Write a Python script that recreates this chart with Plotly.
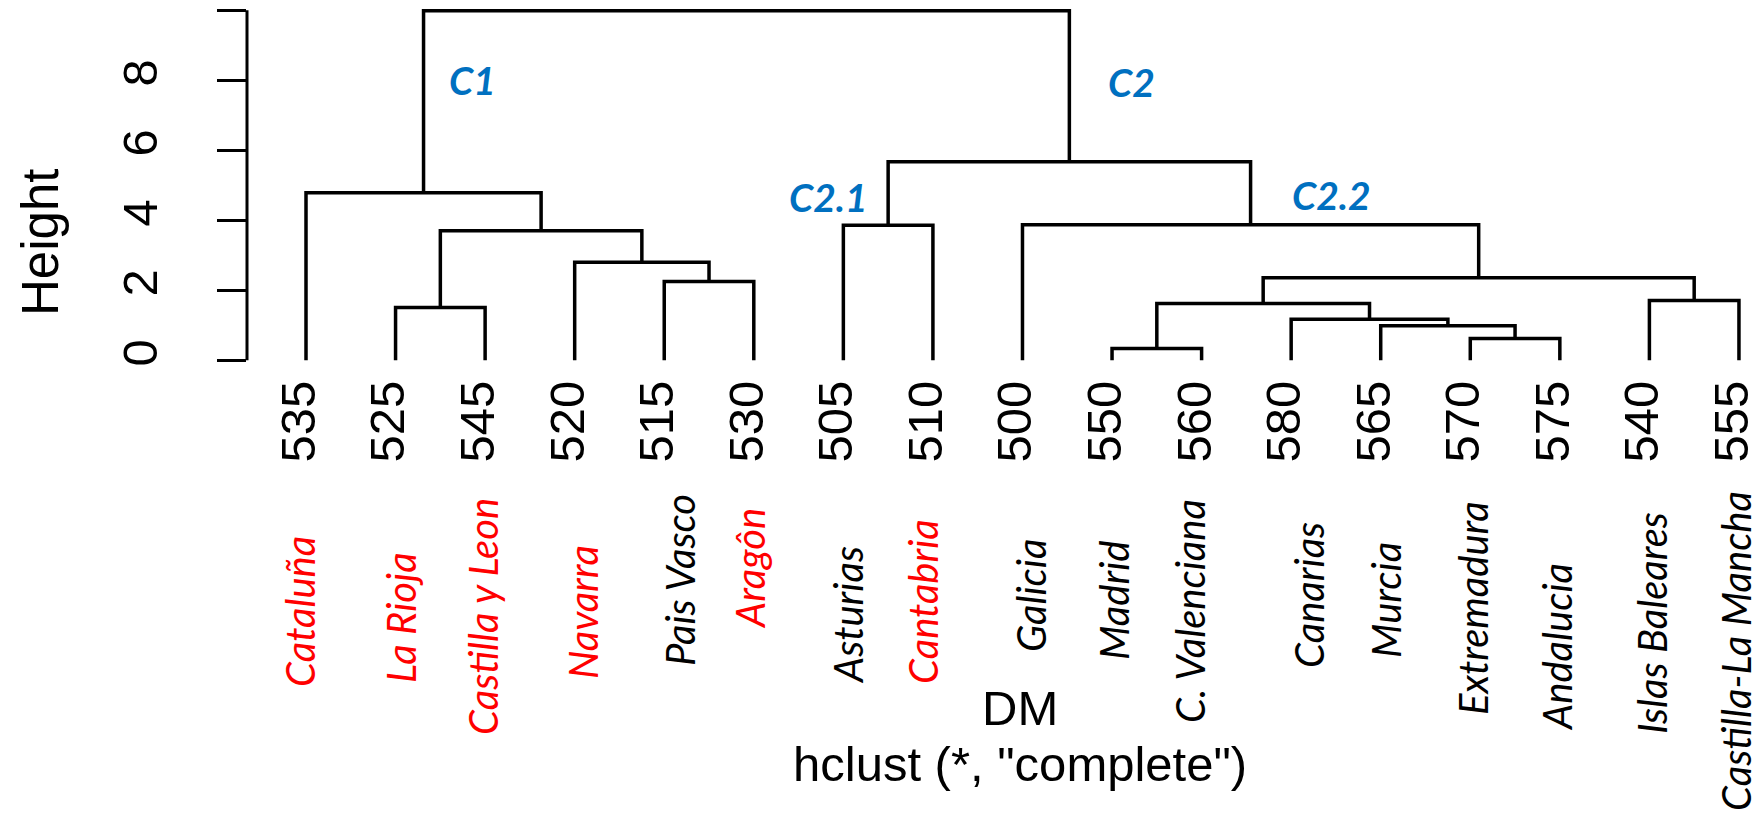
import plotly.graph_objects as go

# ---------------- data ----------------
leaf_codes = ["535", "525", "545", "520", "515", "530", "505", "510", "500",
              "550", "560", "580", "565", "570", "575", "540", "555"]
leaf_names = ["Cataluña", "La Rioja", "Castilla y Leon", "Navarra", "Pais Vasco",
              "Aragôn", "Asturias", "Cantabria", "Galicia", "Madrid",
              "C. Valenciana", "Canarias", "Murcia", "Extremadura", "Andalucia",
              "Islas Baleares", "Castilla-La Mancha"]
leaf_highlight = [1, 1, 1, 1, 0, 1, 0, 1, 0, 0, 0, 0, 0, 0, 0, 0, 0]

# hclust-style merge table: negative = leaf (1-based position in the leaf order),
# positive = result of an earlier merge step (1-based)
merge_left = [-10, -14, -13, -12, -2, 1, -16, -5, 6, -4, 5, -7, -9, -1, 12, 14]
merge_right = [-11, -15, 2, 3, -3, 4, -17, -6, 7, 8, 10, -8, 9, 11, 13, 15]
merge_height = [0.34, 0.62, 0.99, 1.17, 1.51, 1.62, 1.71, 2.25, 2.36, 2.80,
                3.70, 3.86, 3.87, 4.79, 5.67, 9.99]

y_tick_vals = [0, 2, 4, 6, 8, 10]
y_tick_text = ["0", "2", "4", "6", "8", ""]

cluster_labels = ["C1", "C2", "C2.1", "C2.2"]

# ---------------- layout geometry (pixels) ----------------
PAGE_OFF = 8                      # default body margin of the html page
W, H = 1764 - PAGE_OFF, 816 - PAGE_OFF
ML, MR, MT, MB = 239, 0, 0, 452
PW, PH = W - ML - MR, H - MT - MB
X_RANGE = [0.3412, 17.2796]
Y_RANGE = [-0.1057, 10.0657]


def pxx(page_x):
    return (page_x - PAGE_OFF - ML) / PW


def pxy(page_y):
    return (H - MB - (page_y - PAGE_OFF)) / PH


R_FONT = "Liberation Sans, Arial, sans-serif"
NAME_FONT = "Lato, Open Sans, sans-serif"
R_SIZE = 49

# ---------------- dendrogram segments ----------------
centers = []


def node(k):
    if k < 0:
        return float(-k), 0.0
    return centers[k - 1]


xs, ys = [], []
for l, r, h in zip(merge_left, merge_right, merge_height):
    xl, hl = node(l)
    xr, hr = node(r)
    xs += [xl, xl, xr, xr, None]
    ys += [hl, h, h, hr, None]
    centers.append(((xl + xr) / 2.0, h))

fig = go.Figure()
fig.add_trace(go.Scatter(x=xs, y=ys, mode="lines",
                         line=dict(color="black", width=3.5),
                         hoverinfo="skip", showlegend=False, cliponaxis=False))

# ---------------- annotations ----------------
ann = []

# region names (manually placed italic text boxes): centre positions on the page
name_cx = [300, 401, 483, 583, 680, 750, 848, 923, 1031, 1114, 1190, 1309,
           1386, 1473, 1557, 1652, 1736]
name_cy = [612, 618, 617, 612, 580, 569, 615, 602, 596, 600, 611, 595,
           600, 608, 647, 623, 651]
for nm, hi, cx, cy in zip(leaf_names, leaf_highlight, name_cx, name_cy):
    ann.append(dict(text=nm, xref="paper", yref="paper", x=pxx(cx), y=pxy(cy),
                    xanchor="center", yanchor="middle", showarrow=False,
                    textangle=-90,
                    font=dict(family=NAME_FONT, size=40, style="italic",
                              color="#FF0000" if hi else "#000000")))

# cluster tags
tag_pos = [(472, 80), (1131, 82), (828, 197), (1331, 195)]
for t, (cx, cy) in zip(cluster_labels, tag_pos):
    ann.append(dict(text=t, xref="paper", yref="paper", x=pxx(cx), y=pxy(cy),
                    xanchor="center", yanchor="middle", showarrow=False,
                    font=dict(family=NAME_FONT, size=39, style="italic",
                              weight="bold", color="#0070C0")))

# axis title / sub-title
ann.append(dict(text="Height", xref="paper", yref="paper", x=pxx(40), y=pxy(243),
                xanchor="center", yanchor="middle", showarrow=False, textangle=-90,
                font=dict(family=R_FONT, size=R_SIZE + 2, color="black")))
ann.append(dict(text="DM", xref="paper", yref="paper", x=pxx(1020), y=pxy(708),
                xanchor="center", yanchor="middle", showarrow=False,
                font=dict(family=R_FONT, size=R_SIZE, color="black")))
ann.append(dict(text='hclust (*, "complete")', xref="paper", yref="paper",
                x=pxx(1020), y=pxy(764),
                xanchor="center", yanchor="middle", showarrow=False,
                font=dict(family=R_FONT, size=R_SIZE, color="black")))

# y-axis line (from 0 to 10 only)
shapes = [dict(type="line", xref="paper", yref="y", x0=0, x1=0, y0=0, y1=10,
               line=dict(color="black", width=3))]

fig.update_layout(
    template="none",
    width=W, height=H,
    margin=dict(l=ML, r=MR, t=MT, b=MB, pad=0),
    paper_bgcolor="white", plot_bgcolor="white",
    showlegend=False,
    annotations=ann,
    shapes=shapes,
    xaxis=dict(range=X_RANGE, showgrid=False, zeroline=False, showline=False,
               automargin=False, ticks="",
               tickmode="array", tickvals=list(range(1, len(leaf_codes) + 1)),
               ticktext=leaf_codes, tickangle=-90,
               tickfont=dict(family=R_FONT, size=R_SIZE, color="black"),
               ticklabelstandoff=6, ticklabelshift=-7),
    yaxis=dict(range=Y_RANGE, showgrid=False, zeroline=False, showline=False,
               automargin=False, ticks="outside", ticklen=29, tickwidth=3,
               tickcolor="black", tickmode="array", tickvals=y_tick_vals,
               ticktext=y_tick_text, tickangle=-90,
               tickfont=dict(family=R_FONT, size=R_SIZE, color="black"),
               ticklabelstandoff=40),
)

fig.write_html("out.html")
